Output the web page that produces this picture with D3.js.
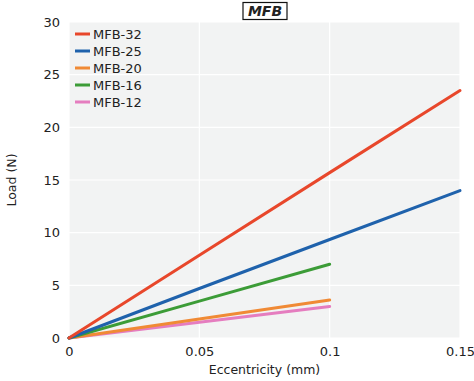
<!DOCTYPE html>
<html>
<head>
<meta charset="utf-8">
<script src="https://cdn.jsdelivr.net/npm/d3@7"></script>
<style>
  body { margin: 0; background: #fff; }
  text { font-family: "DejaVu Sans", sans-serif; fill: #222; }
</style>
</head>
<body>
<div id="chart"></div>
<script>
// data
var series = ["MFB-32", "MFB-25", "MFB-20", "MFB-16", "MFB-12"];
var colors = ["#e8472b", "#1f62ac", "#f08a35", "#3c9c37", "#e57dbf"];
var ecc32 = [0, 0.05, 0.1, 0.15], load32 = [0, 7.85, 15.7, 23.5];
var ecc25 = [0, 0.05, 0.1, 0.15], load25 = [0, 4.7, 9.35, 14.0];
var ecc20 = [0, 0.05, 0.1], load20 = [0, 1.8, 3.6];
var ecc16 = [0, 0.05, 0.1], load16 = [0, 3.5, 7.0];
var ecc12 = [0, 0.05, 0.1], load12 = [0, 1.5, 3.0];
var xTicks = [0, 0.05, 0.1, 0.15];
var yTicks = [0, 5, 10, 15, 20, 25, 30];

var w = 474, h = 381;
var m = {left: 69, right: 14, top: 22, bottom: 43};
var fs = 13;

var svg = d3.select("#chart").append("svg")
    .attr("width", w).attr("height", h);

var x = d3.scaleLinear().domain([0, 0.15]).range([m.left, w - m.right]);
var y = d3.scaleLinear().domain([0, 30]).range([h - m.bottom, m.top]);

// plot background
svg.append("rect")
   .attr("x", x(0)).attr("y", y(30))
   .attr("width", x(0.15) - x(0)).attr("height", y(0) - y(30))
   .attr("fill", "#f2f3f3");

// grid
svg.selectAll(".vg").data(xTicks).enter().append("line")
   .attr("x1", d => x(d)).attr("x2", d => x(d))
   .attr("y1", y(0)).attr("y2", y(30))
   .attr("stroke", "#fff").attr("stroke-width", 1.2);
svg.selectAll(".hg").data(yTicks).enter().append("line")
   .attr("x1", x(0)).attr("x2", x(0.15))
   .attr("y1", d => y(d)).attr("y2", d => y(d))
   .attr("stroke", "#fff").attr("stroke-width", 1.2);

// axes
var xAxis = svg.append("g").attr("transform", "translate(0," + y(0) + ")")
   .call(d3.axisBottom(x).tickValues(xTicks).tickSize(0).tickPadding(9)
        .tickFormat(d => d === 0 ? "0" : String(d)));
var yAxis = svg.append("g").attr("transform", "translate(" + x(0) + ",0)")
   .call(d3.axisLeft(y).tickValues(yTicks).tickSize(0).tickPadding(9));
[xAxis, yAxis].forEach(function(a) {
  a.select(".domain").remove();
  a.selectAll("text").attr("font-size", fs).attr("fill", "#222")
   .style("font-family", '"DejaVu Sans", sans-serif');
});

// lines
var all = [[ecc32, load32], [ecc25, load25], [ecc20, load20], [ecc16, load16], [ecc12, load12]];
var line = d3.line().x(d => x(d[0])).y(d => y(d[1]));
// draw bottom ones first so order matches picture
[4, 2, 3, 1, 0].forEach(function(i) {
  var pts = all[i][0].map((e, j) => [e, all[i][1][j]]);
  svg.append("path").datum(pts)
     .attr("d", line)
     .attr("fill", "none")
     .attr("stroke", colors[i])
     .attr("stroke-width", 3)
     .attr("stroke-linecap", "round");
});

// legend
var leg = svg.append("g").attr("transform", "translate(75,34)");
series.forEach(function(s, i) {
  var g = leg.append("g").attr("transform", "translate(0," + i * 17 + ")");
  g.append("line").attr("x1", 0).attr("x2", 15).attr("y1", 0).attr("y2", 0)
   .attr("stroke", colors[i]).attr("stroke-width", 3);
  g.append("text").attr("x", 18).attr("y", 0).attr("dy", "0.35em")
   .attr("font-size", fs).text(s);
});

// title box + text
var tbox = svg.append("rect");
var title = svg.append("text").attr("x", 265).attr("y", 11).attr("dy", "0.35em")
   .attr("text-anchor", "middle").attr("font-size", 14)
   .attr("font-weight", "bold").attr("font-style", "italic").text("MFB");
tbox.attr("x", 243).attr("y", 2.5).attr("width", 44).attr("height", 17)
   .attr("fill", "#fff").attr("stroke", "#111").attr("stroke-width", 1.2);

// axis titles
svg.append("text").attr("x", x(0.075)).attr("y", 374)
   .attr("text-anchor", "middle").attr("font-size", 12.5).text("Eccentricity (mm)");
svg.append("text").attr("transform", "translate(16," + y(15) + ") rotate(-90)")
   .attr("text-anchor", "middle").attr("font-size", 12.5).text("Load (N)");
</script>
</body>
</html>
